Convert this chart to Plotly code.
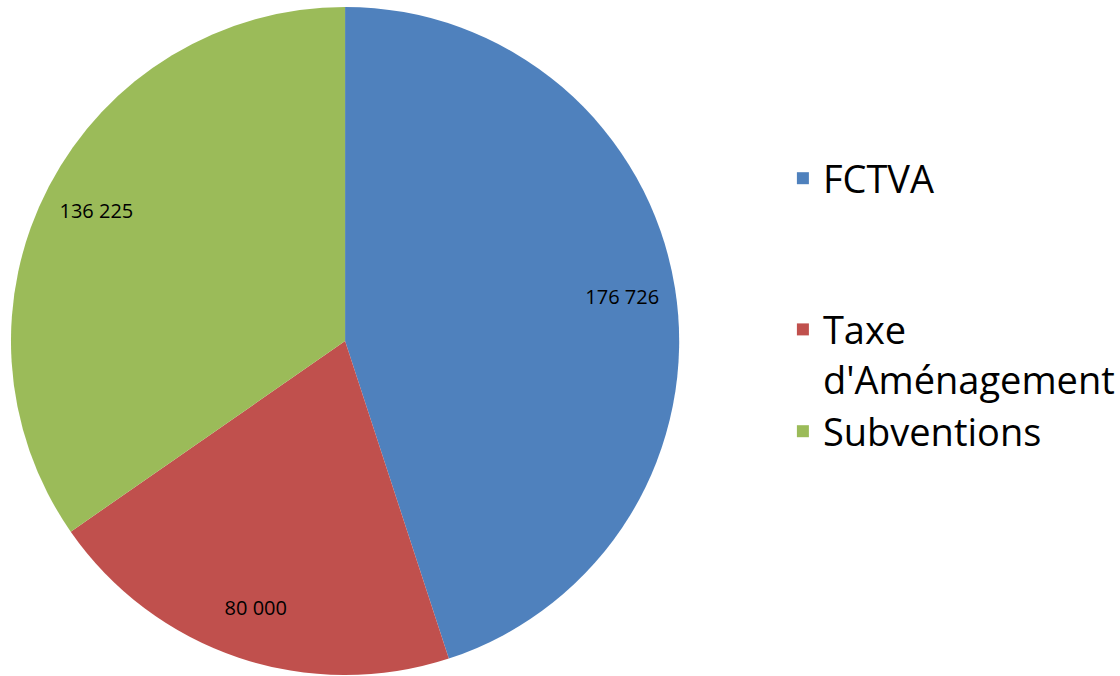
import plotly.graph_objects as go

categories = ["FCTVA", "Taxe d'Aménagement", "Subventions"]
legend_labels = ["FCTVA<br> <br> ", "Taxe<br>d'Aménagement", "Subventions"]
values = [176726, 80000, 136225]
value_text = ["176 726", "80 000", "136 225"]
colors = ["#4F81BD", "#C0504D", "#9BBB59"]

W, H = 1120, 676
dom = dict(x=[11 / W, 681 / W], y=[0, 670 / H])

# coloured pie with legend
fig = go.Figure(go.Pie(
    labels=legend_labels,
    values=values,
    textinfo="none",
    sort=False,
    direction="clockwise",
    rotation=0,
    marker=dict(colors=colors, line=dict(width=0)),
    domain=dom,
    hoverinfo="skip",
))

# transparent ring carrying the data labels near the rim
fig.add_trace(go.Pie(
    labels=legend_labels,
    values=values,
    text=value_text,
    textinfo="text",
    textposition="inside",
    insidetextorientation="horizontal",
    textfont=dict(family="Open Sans", size=20, color="#000000"),
    hole=0.68,
    sort=False,
    direction="clockwise",
    rotation=0,
    marker=dict(colors=["rgba(0,0,0,0)"] * 3, line=dict(width=0)),
    domain=dom,
    showlegend=False,
    customdata=categories,
    hovertemplate="%{customdata}: %{text}<extra></extra>",
))

fig.update_layout(
    width=W, height=H,
    margin=dict(l=0, r=0, t=0, b=0),
    paper_bgcolor="white",
    plot_bgcolor="white",
    showlegend=True,
    legend=dict(
        x=785 / W, xanchor="left",
        y=1 - 147 / H, yanchor="top",
        font=dict(family="Open Sans", size=38, color="#000000"),
        valign="top",
        bgcolor="rgba(0,0,0,0)",
    ),
)

fig.write_html(
    "out.html",
    config={"displayModeBar": False},
    post_script="document.body.style.margin='0';",
)
